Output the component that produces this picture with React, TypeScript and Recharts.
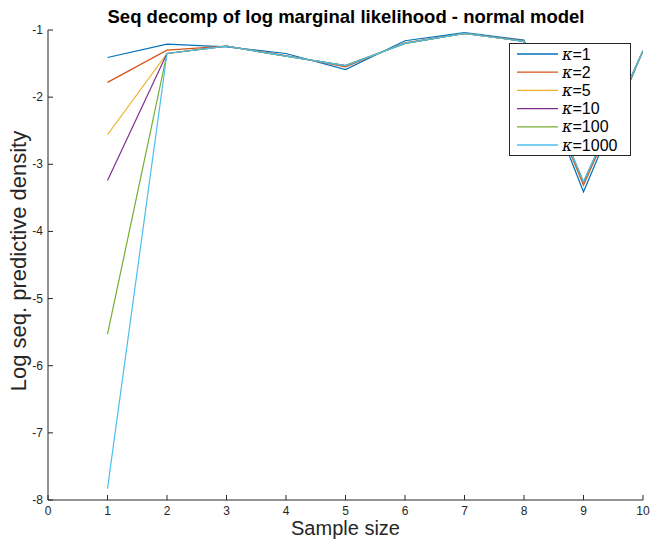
import React from 'react';
import { LineChart, Line, XAxis, YAxis, Label } from 'recharts';

const sampleSize = [1, 2, 3, 4, 5, 6, 7, 8, 9, 10];
const kappas = ['1', '2', '5', '10', '100', '1000'];
const COLORS = ['#0072BD', '#D95319', '#EDB120', '#7E2F8E', '#77AC30', '#4DBEEE'];

const k1 = [-1.41, -1.21, -1.25, -1.35, -1.59, -1.16, -1.04, -1.15, -3.41, -1.31];
const k2 = [-1.78, -1.30, -1.24, -1.38, -1.55, -1.19, -1.05, -1.16, -3.31, -1.31];
const k5 = [-2.56, -1.35, -1.24, -1.39, -1.53, -1.20, -1.05, -1.17, -3.28, -1.31];
const k10 = [-3.24, -1.35, -1.24, -1.39, -1.53, -1.20, -1.05, -1.17, -3.27, -1.31];
const k100 = [-5.53, -1.35, -1.24, -1.39, -1.53, -1.20, -1.05, -1.17, -3.26, -1.31];
const k1000 = [-7.83, -1.35, -1.24, -1.39, -1.53, -1.20, -1.05, -1.17, -3.26, -1.31];

const xTicks = [0, 1, 2, 3, 4, 5, 6, 7, 8, 9, 10];
const yTicks = [-8, -7, -6, -5, -4, -3, -2, -1];

const series = [k1, k2, k5, k10, k100, k1000];

const data = sampleSize.map((n, i) => {
  const row: Record<string, number> = { n };
  series.forEach((s, j) => {
    row[`k${kappas[j]}`] = s[i];
  });
  return row;
});

const FONT = '"Liberation Sans", Arial, Helvetica, sans-serif';
const AXIS = '#262626';

// ticks point inward like the original, labels sit outside
const XTick = (props: any) => {
  const { x, y, payload } = props;
  const axisY = y - 2;
  return (
    <g>
      <line x1={x} x2={x} y1={axisY} y2={axisY - 5} stroke={AXIS} strokeWidth={1} />
      <text x={x} y={axisY + 15} textAnchor="middle" fontSize={12} fill={AXIS} fontFamily={FONT}>
        {payload.value}
      </text>
    </g>
  );
};

const YTick = (props: any) => {
  const { x, y, payload } = props;
  const axisX = x + 5;
  return (
    <g>
      <line x1={axisX} x2={axisX + 5} y1={y} y2={y} stroke={AXIS} strokeWidth={1} />
      <text x={axisX - 5} y={y + 4} textAnchor="end" fontSize={12} fill={AXIS} fontFamily={FONT}>
        {payload.value}
      </text>
    </g>
  );
};

const LegendBox = () => (
  <div
    style={{
      position: 'absolute',
      left: 509,
      top: 43,
      width: 120,
      height: 111,
      border: `1px solid ${AXIS}`,
      background: '#fff',
    }}
  >
    <svg width={120} height={111} style={{ display: 'block' }}>
      {kappas.map((k, i) => {
        const cy = 10 + i * 18.2;
        return (
          <g key={k}>
            <line x1={7} x2={48} y1={cy} y2={cy} stroke={COLORS[i]} strokeWidth={1.3} />
            <text x={52} y={cy + 5.5} fontSize={16} fill="#000" fontFamily={FONT}>
              <tspan fontStyle="italic" fontFamily='"DejaVu Serif", serif'>κ</tspan>={k}
            </text>
          </g>
        );
      })}
    </svg>
  </div>
);

export default function App() {
  return (
    <div style={{ position: 'absolute', left: 0, top: 0, width: 653, height: 539, background: '#fff' }}>
      <LineChart
        width={653}
        height={539}
        data={data}
        margin={{ top: 30, right: 10, bottom: 0, left: 0 }}
        style={{ position: 'absolute', left: 0, top: 0 }}
      >
        <XAxis
          dataKey="n"
          type="number"
          domain={[0, 10]}
          ticks={xTicks}
          height={39}
          tickSize={0}
          tickMargin={2}
          tickLine={false}
          axisLine={{ stroke: AXIS }}
          tick={<XTick />}
          allowDataOverflow
        >
          <Label
            content={({ viewBox }: any) => (
              <text
                x={viewBox.x + viewBox.width / 2}
                y={535}
                textAnchor="middle"
                fontSize={20}
                fill={AXIS}
                fontFamily={FONT}
              >
                Sample size
              </text>
            )}
          />
        </XAxis>
        <YAxis
          type="number"
          domain={[-8, -1]}
          ticks={yTicks}
          width={48}
          tickSize={0}
          tickMargin={5}
          tickLine={false}
          axisLine={{ stroke: AXIS }}
          tick={<YTick />}
          allowDataOverflow
        >
          <Label
            content={({ viewBox }: any) => {
              const cy = viewBox.y + viewBox.height / 2 - 4;
              return (
                <text
                  x={18}
                  y={cy}
                  transform={`rotate(-90, 18, ${cy})`}
                  textAnchor="middle"
                  dominantBaseline="central"
                  fontSize={22}
                  fill={AXIS}
                  fontFamily={FONT}
                >
                  Log seq. predictive density
                </text>
              );
            }}
          />
        </YAxis>
        {kappas.map((k, i) => (
          <Line
            key={k}
            type="linear"
            dataKey={`k${k}`}
            stroke={COLORS[i]}
            strokeWidth={1.2}
            dot={false}
            isAnimationActive={false}
          />
        ))}
      </LineChart>
      <svg width={653} height={30} style={{ position: 'absolute', left: 0, top: 0 }}>
        <text x={346} y={23} textAnchor="middle" fontSize={18.5} fontWeight="bold" fontFamily={FONT} fill="#000">
          Seq decomp of log marginal likelihood - normal model
        </text>
      </svg>
      <LegendBox />
    </div>
  );
}
